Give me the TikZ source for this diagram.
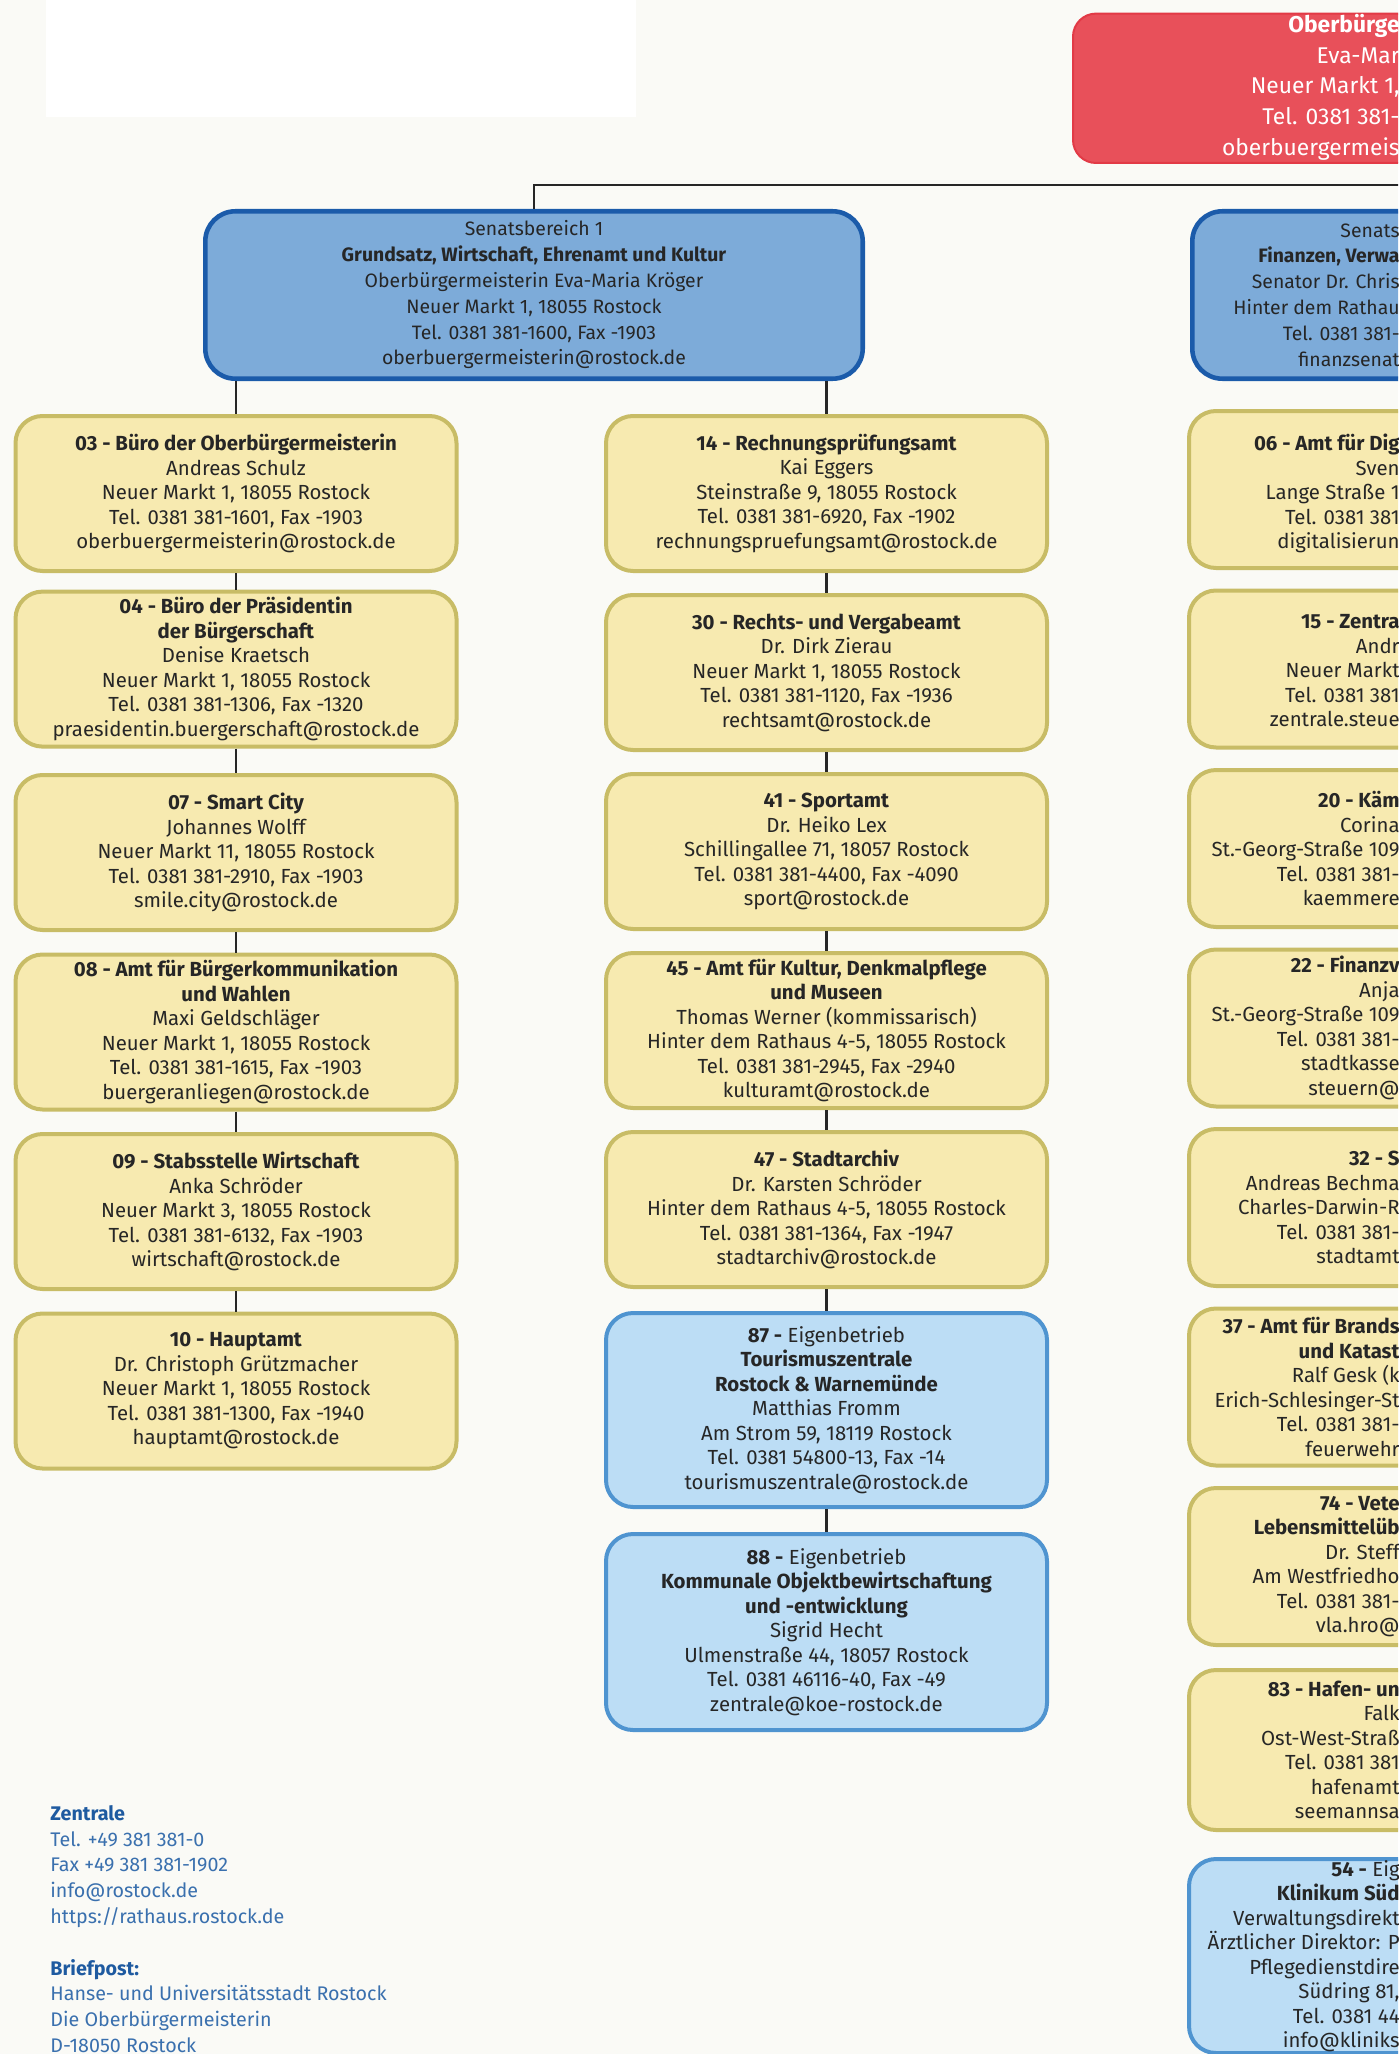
\documentclass[tikz,border=0pt]{standalone}
\usepackage{fontspec}
\setmainfont{Fira Sans}
\usetikzlibrary{positioning}

\definecolor{paper}{HTML}{FAFAF6}
\definecolor{ink}{HTML}{262626}
\definecolor{amtfill}{HTML}{F7EAB0}
\definecolor{amtline}{HTML}{C8BC66}
\definecolor{senfill}{HTML}{7DABD9}
\definecolor{senline}{HTML}{1B5BAA}
\definecolor{ebfill}{HTML}{BCDDF5}
\definecolor{ebline}{HTML}{4F94D0}
\definecolor{obfill}{HTML}{E8505A}
\definecolor{obline}{HTML}{E23A46}
\definecolor{infoblue}{HTML}{3A70AE}
\definecolor{headblue}{HTML}{1E5AA0}

\begin{document}
\begin{tikzpicture}[x=1pt, y=1pt, node distance=10.25pt,
    amt/.style={draw=amtline, fill=amtfill, line width=2pt, rounded corners=13.5pt,
      minimum width=220.5pt, minimum height=77.5pt, inner sep=0pt, align=center,
      text=ink, font=\fontsize{10.2}{12.25}\selectfont},
    amtr/.style={amt, minimum height=78.5pt},
    eb/.style={amt, draw=ebline, fill=ebfill, minimum height=97pt},
    senat/.style={amt, draw=senline, fill=senfill, line width=2.3pt, rounded corners=15pt,
      minimum width=328.7pt, minimum height=83.7pt, font=\fontsize{9.7}{12.9}\selectfont},
    cut/.style={anchor=east, align=right, inner sep=0pt, text=ink,
      font=\fontsize{10.2}{12.25}\selectfont},
    conn/.style={draw=ink, line width=1.35pt}]

    \path[use as bounding box] (0,0) rectangle (699,-1027);
    \clip (0,0) rectangle (699,-1027);
    \fill[paper] (0,0) rectangle (699,-1027);
    \fill[white] (23,0) rectangle (318,-58.5);

    \coordinate (bus) at (0,-92.5);
    \coordinate (edge) at (700,0);

    % Oberbuergermeisterin and Senatsbereiche
    \node[amt, draw=obline, fill=obfill, line width=1pt, rounded corners=11.5pt,
      minimum width=340pt, minimum height=74.7pt, anchor=north west] (ob) at (536,-6.3) {};
    \node[cut, text=white, font=\fontsize{11.4}{15.3}\selectfont, yshift=0.5pt] (obtext) at (ob -| edge)
      {\textbf{Oberbürge}\\Eva-Mar\\Neuer Markt 1,\\Tel. 0381 381-\\oberbuergermeis};

    \node[senat] (sb1) at (267,-147.5) {Senatsbereich 1\\\textbf{Grundsatz, Wirtschaft, Ehrenamt und Kultur}\\Oberbürgermeisterin Eva-Maria Kröger\\Neuer Markt 1, 18055 Rostock\\Tel. 0381 381-1600, Fax -1903\\oberbuergermeisterin@rostock.de};
    \node[senat, anchor=west] (sb2) at (595,-147.5) {};
    \node[cut, font=\fontsize{9.7}{12.9}\selectfont] (sb2text) at (sb2 -| edge)
      {Senats\\\textbf{Finanzen, Verwa}\\Senator Dr. Chris\hspace*{7.5pt}\\Hinter dem Rathau\\Tel. 0381 381-\\finanzsenat};

    % Senatsbereich 1, links
    \node[amt, anchor=north] (a03) at (118,-207) {\textbf{03 - Büro der Oberbürgermeisterin}\\Andreas Schulz\\Neuer Markt 1, 18055 Rostock\\Tel. 0381 381-1601, Fax -1903\\oberbuergermeisterin@rostock.de};
    \node[amt, below=8.3pt of a03] (a04) {\textbf{04 - Büro der Präsidentin}\\\textbf{der Bürgerschaft}\\Denise Kraetsch\\Neuer Markt 1, 18055 Rostock\\Tel. 0381 381-1306, Fax -1320\\praesidentin.buergerschaft@rostock.de};
    \node[amt, below=12.2pt of a04] (a07) {\textbf{07 - Smart City}\\Johannes Wolff\\Neuer Markt 11, 18055 Rostock\\Tel. 0381 381-2910, Fax -1903\\smile.city@rostock.de};
    \node[amt, below=of a07] (a08) {\textbf{08 - Amt für Bürgerkommunikation}\\\textbf{und Wahlen}\\Maxi Geldschläger\\Neuer Markt 1, 18055 Rostock\\Tel. 0381 381-1615, Fax -1903\\buergeranliegen@rostock.de};
    \node[amt, below=of a08] (a09) {\textbf{09 - Stabsstelle Wirtschaft}\\Anka Schröder\\Neuer Markt 3, 18055 Rostock\\Tel. 0381 381-6132, Fax -1903\\wirtschaft@rostock.de};
    \node[amt, below=of a09] (a10) {\textbf{10 - Hauptamt}\\Dr. Christoph Grützmacher\\Neuer Markt 1, 18055 Rostock\\Tel. 0381 381-1300, Fax -1940\\hauptamt@rostock.de};

    % Senatsbereich 1, Mitte
    \node[amt, anchor=north] (m14) at (413.25,-207) {\textbf{14 - Rechnungsprüfungsamt}\\Kai Eggers\\Steinstraße 9, 18055 Rostock\\Tel. 0381 381-6920, Fax -1902\\rechnungspruefungsamt@rostock.de};
    \node[amt, below=10pt of m14] (m30) {\textbf{30 - Rechts- und Vergabeamt}\\Dr. Dirk Zierau\\Neuer Markt 1, 18055 Rostock\\Tel. 0381 381-1120, Fax -1936\\rechtsamt@rostock.de};
    \node[amt, below=10pt of m30] (m41) {\textbf{41 - Sportamt}\\Dr. Heiko Lex\\Schillingallee 71, 18057 Rostock\\Tel. 0381 381-4400, Fax -4090\\sport@rostock.de};
    \node[amt, below=10pt of m41] (m45) {\textbf{45 - Amt für Kultur, Denkmalpflege}\\\textbf{und Museen}\\Thomas Werner (kommissarisch)\\Hinter dem Rathaus 4-5, 18055 Rostock\\Tel. 0381 381-2945, Fax -2940\\kulturamt@rostock.de};
    \node[amt, below=10pt of m45] (m47) {\textbf{47 - Stadtarchiv}\\Dr. Karsten Schröder\\Hinter dem Rathaus 4-5, 18055 Rostock\\Tel. 0381 381-1364, Fax -1947\\stadtarchiv@rostock.de};
    \node[eb, below=11pt of m47] (m87) {\textbf{87 -} Eigenbetrieb\\\textbf{Tourismuszentrale}\\\textbf{Rostock \& Warnemünde}\\Matthias Fromm\\Am Strom 59, 18119 Rostock\\Tel. 0381 54800-13, Fax -14\\tourismuszentrale@rostock.de};
    \node[eb, minimum height=98pt, below=11.5pt of m87] (m88) {\textbf{88 -} Eigenbetrieb\\\textbf{Kommunale Objektbewirtschaftung}\\\textbf{und -entwicklung}\\Sigrid Hecht\\Ulmenstraße 44, 18057 Rostock\\Tel. 0381 46116-40, Fax -49\\zentrale@koe-rostock.de};

    % Senatsbereich 2, am Rand abgeschnitten
    \node[amtr, anchor=north] (r06) at (704.75,-204.5) {};
    \node[amtr, below=9.25pt of r06] (r15) {};
    \node[amtr, below=9.25pt of r15] (r20) {};
    \node[amtr, below=9.25pt of r20] (r22) {};
    \node[amtr, below=9.25pt of r22] (r32) {};
    \node[amtr, below=9.25pt of r32] (r37) {};
    \node[amtr, below=9.25pt of r37] (r74) {};
    \node[amtr, minimum height=80pt, below=10.5pt of r74] (r83) {};
    \node[eb, below=12.5pt of r83] (r54) {};

    \node[cut, yshift=-2pt] (t06) at (r06 -| edge) {\textbf{06 - Amt für Dig}\\Sven\hspace*{7.5pt}\\Lange Straße 1\\Tel. 0381 381\\digitalisierun};
    \node[cut, yshift=-1pt] (t15) at (r15 -| edge) {\textbf{15 - Zentra}\\Andr\\Neuer Markt\hspace*{3.5pt}\\Tel. 0381 381\\zentrale.steue};
    \node[cut] (t20) at (r20 -| edge) {\textbf{20 - Käm}\\Corina\\St.-Georg-Straße 109\hspace*{6.5pt}\\Tel. 0381 381-\\kaemmere};
    \node[cut] (t22) at (r22 -| edge) {\textbf{22 - Finanzv}\\Anja\\St.-Georg-Straße 109\hspace*{6.5pt}\\Tel. 0381 381-\\stadtkasse\\steuern@};
    \node[cut] (t32) at (r32 -| edge) {\textbf{32 - S}\\Andreas Bechma\\Charles-Darwin-R\\Tel. 0381 381-\\stadtamt};
    \node[cut] (t37) at (r37 -| edge) {\textbf{37 - Amt für Brands}\\\textbf{und Katast}\\Ralf Gesk (k\\Erich-Schlesinger-St\\Tel. 0381 381-\\feuerwehr};
    \node[cut] (t74) at (r74 -| edge) {\textbf{74 - Vete}\\\textbf{Lebensmittelüb}\\Dr. Steff\\Am Westfriedho\\Tel. 0381 381-\\vla.hro@};
    \node[cut] (t83) at (r83 -| edge) {\textbf{83 - Hafen- un}\\Falk\hspace*{8.5pt}\\Ost-West-Straß\\Tel. 0381 381\\hafenamt\\seemannsa};
    \node[cut] (t54) at (r54 -| edge) {\textbf{54 -} Eig\\\textbf{Klinikum Süd}\\Verwaltungsdirekt\\Ärztlicher Direktor: P\\Pflegedienstdire\\Südring 81,\hspace*{8.5pt}\\Tel. 0381 44\\info@kliniks};

    % Kontakt
    \node[anchor=north west, align=left, inner sep=0pt, text=infoblue,
      font=\fontsize{9.85}{12.9}\selectfont] (kontakt) at (25,-902.5)
      {\textcolor{headblue}{\textbf{Zentrale}}\\Tel. +49 381 381-0\\Fax +49 381 381-1902\\info@rostock.de\\https://rathaus.rostock.de\\[12.9pt]\textcolor{headblue}{\textbf{Briefpost:}}\\Hanse- und Universitätsstadt Rostock\\Die Oberbürgermeisterin\\D-18050 Rostock};

    % Linien
    \draw[conn] (sb1.north) |- (sb2.north |- bus);
    \draw[conn] (a03.north |- sb1.south) -- (a03.north);
    \draw[conn] (m14.north |- sb1.south) -- (m14.north);
    \foreach \a/\b in {a03/a04, a04/a07, a07/a08, a08/a09, a09/a10,
                       m14/m30, m30/m41, m41/m45, m45/m47, m47/m87, m87/m88}
        \draw[conn] (\a.south) -- (\b.north);
\end{tikzpicture}
\end{document}
